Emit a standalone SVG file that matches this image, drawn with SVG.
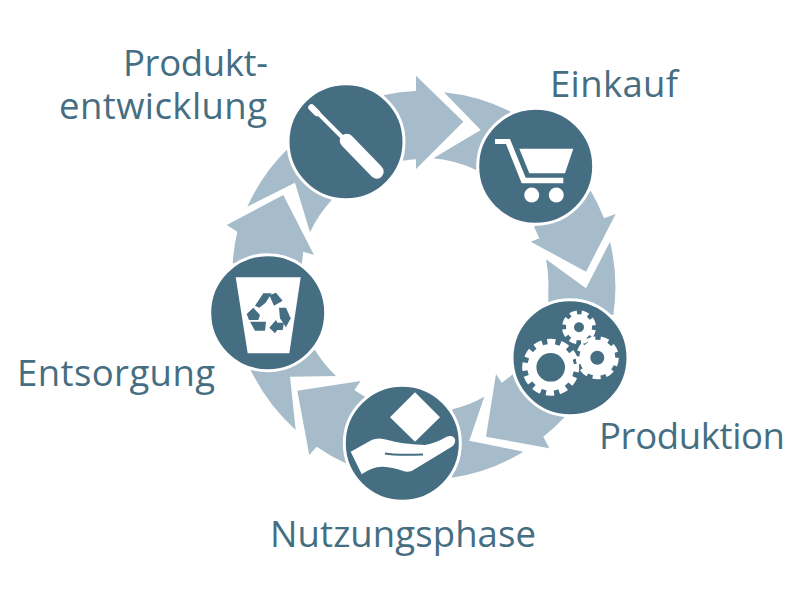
<svg xmlns="http://www.w3.org/2000/svg" width="800" height="600" viewBox="0 0 800 600">
<style>
.a{fill:#a6bcca}
.c{fill:#466e82;stroke:#fff;stroke-width:3}
.w{fill:#fff}
.d{fill:#466e82}
.t{font-family:"Open Sans","Liberation Sans",sans-serif;font-size:36.5px;fill:#466e82}
.g{fill:none;stroke:#fff}
</style>
<rect width="800" height="600" fill="#fff"/>
<g id="connectors">
<path class="a" d="M384 95A190 190 0 0 1 416 91L416 75.700L463.300 121.700L416 169L416 159.300A125 125 0 0 0 403.300 160.700Z"/>
<path class="a" d="M444 92.300A190 190 0 0 1 510.700 111.700L476 170A125 125 0 0 0 433.300 158.300L480.700 130Z"/>
<path class="a" d="M590.700 190.700A190 190 0 0 1 604 218.300L615.700 214L586 271.700L530.700 241.700L539.300 238.300L534 226.700Z"/>
<path class="a" d="M610 241.700A190 190 0 0 1 613.300 315L548.300 310L548.300 290A125 125 0 0 0 546 259.300L586 288.300Z"/>
<path class="a" d="M565 416.700A190 190 0 0 1 543.300 436.700L549.300 448.300L486 436.700L496 374L501.700 382.700A125 125 0 0 0 512.700 374.300Z"/>
<path class="a" d="M523.300 451.700A190 190 0 0 1 451.700 477.700L452.300 409.300A125 125 0 0 0 484.300 396.700L469.300 440.700Z"/>
<path class="a" d="M345.700 463.300A190 190 0 0 1 316.700 446.700L309.300 455L297.300 390.700L360.700 381L354.300 390A125 125 0 0 0 365 396.700Z"/>
<path class="a" d="M295.700 430A190 190 0 0 1 250.700 370L315 350A125 125 0 0 0 336 376L290 376.700Z"/>
<path class="a" d="M232.700 263.300A190 190 0 0 1 237.300 231.700L226.700 225L283.300 195L314 255L303.300 251.700L301.700 265Z"/>
<path class="a" d="M247.300 206.700A190 190 0 0 1 287.300 149.300L331.700 200A125 125 0 0 0 310 232.300L295 182.700Z"/>
</g>
<g id="produktentwicklung">
<circle class="c" cx="346" cy="141.700" r="58"/>
<path d="M314 109L345 140" stroke="#fff" stroke-width="4" fill="none"/>
<path d="M311.500 107.500L317 113" stroke="#fff" stroke-width="6.500" stroke-linecap="round" fill="none"/>
<path d="M346.700 140.700L376.700 171.700" stroke="#fff" stroke-width="14" stroke-linecap="round" fill="none"/>
<text class="t" x="123" y="76" textLength="145">Produkt-</text>
<text class="t" x="59" y="119" textLength="208">entwicklung</text>
</g>
<g id="einkauf">
<circle class="c" cx="535.700" cy="166.300" r="58"/>
<path class="w" d="M495 139H510L525.700 177.700H563.300V183.300H521.700L506 144H495Z"/>
<path class="w" d="M519.300 148.700H573.300L565 173.300H529.300Z"/>
<circle class="w" cx="531.700" cy="195" r="7.500"/>
<circle class="w" cx="556.300" cy="195" r="7.500"/>
<text class="t" x="550" y="97" textLength="128">Einkauf</text>
</g>
<g id="produktion">
<circle class="c" cx="570" cy="357.700" r="58"/>
<circle class="g" cx="550.700" cy="367.300" r="18.800" stroke-width="9"/>
<circle class="g" cx="550.700" cy="367.300" r="25.500" stroke-width="6" pathLength="24" stroke-dasharray="1.200 .8" transform="rotate(-7.500 550.700 367.300)"/>
<circle class="g" cx="597.300" cy="357.700" r="12.500" stroke-width="11"/>
<circle class="g" cx="597.300" cy="357.700" r="19" stroke-width="5" pathLength="18" stroke-dasharray="1.200 .8"/>
<circle class="g" cx="579" cy="327.300" r="9" stroke-width="8"/>
<circle class="g" cx="579" cy="327.300" r="14.500" stroke-width="5" pathLength="16" stroke-dasharray="1.200 .8" transform="rotate(10 579 327.300)"/>
<text class="t" x="599" y="449" textLength="186">Produktion</text>
</g>
<g id="nutzungsphase">
<circle class="c" cx="402.300" cy="443.300" r="58"/>
<path class="w" d="M415 392.300L440 417.300L415 441.700L390 417.300Z"/>
<path class="w" d="M350.700 451.700L371.700 440Q378 437 388 440Q400 444 425 445Q436 443 446.700 436.700Q453 434.500 455 439Q456 444 451.700 446.700L411.700 471Q407 472.500 403.300 471Q392 467 383.300 466.700Q373 466 361.700 474.300Z"/>
<path d="M385 453.500Q395 455.500 423 454.500" fill="none" stroke="#466e82" stroke-width="2"/>
<text class="t" x="270" y="547" textLength="266">Nutzungsphase</text>
</g>
<g id="entsorgung">
<circle class="c" cx="267.700" cy="312.700" r="58"/>
<path class="w" d="M235.700 277.300H300.700L289.300 353.300H247.700Z"/>
<g class="d" transform="translate(200 140) scale(.3333)">
<path d="M165 497L190 460H215L197 488L178 503Z"/>
<path d="M208 466L228 458L248 482L222 497Z"/>
<path d="M237 503L258 503L272 535L258 562L240 535Z"/>
<path d="M140 522L160 503L180 525L175 540H147Z"/>
<path d="M150 545H198L195 572H165Z"/>
<path d="M208 563L228 540L232 548H252L248 570H232L225 580Z"/>
</g>
<text class="t" x="17" y="386" textLength="198">Entsorgung</text>
</g>
</svg>
